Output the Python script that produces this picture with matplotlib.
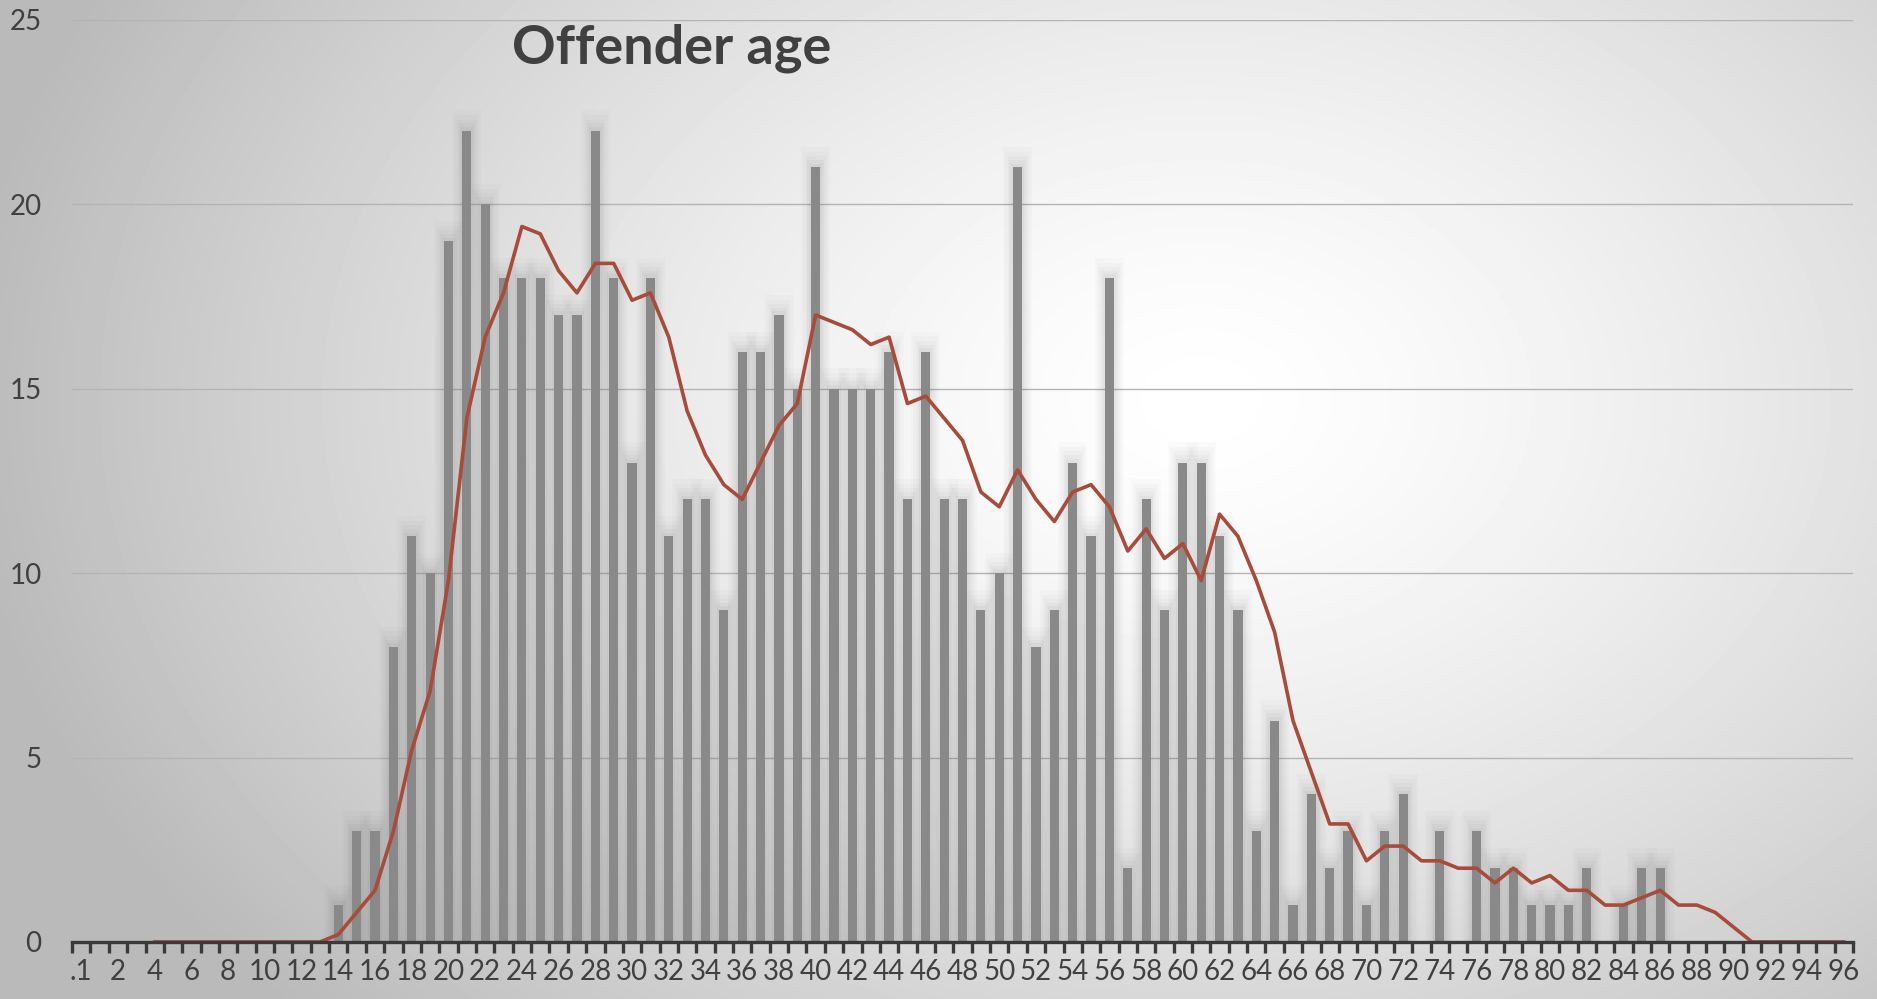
import numpy as np
import matplotlib
matplotlib.use("Agg")
import matplotlib.pyplot as plt

# categories: first one is ".1", then ages 1..96
labels = [".1"] + [str(a) for a in range(1, 97)]

# offender counts per age category
counts = [0] * 14 + [
    1, 3, 3, 8, 11, 10, 19, 22, 20, 18,      # 14-23
    18, 18, 17, 17, 22, 18, 13, 18, 11, 12,  # 24-33
    12, 9, 16, 16, 17, 15, 21, 15, 15, 15,   # 34-43
    16, 12, 16, 12, 12, 9, 10, 21, 8, 9,     # 44-53
    13, 11, 18, 2, 12, 9, 13, 13, 11, 9,     # 54-63
    3, 6, 1, 4, 2, 3, 1, 3, 4, 0,            # 64-73
    3, 0, 3, 2, 2, 1, 1, 1, 2, 0,            # 74-83
    1, 2, 2,                                 # 84-86
] + [0] * 10

# moving average trend line (starts at category 4)
trend = [np.nan] * 4 + [0] * 10 + [
    0.2, 0.8, 1.4, 3.0, 5.2, 6.8, 9.8, 14.2, 16.4, 17.6,     # 14-23
    19.4, 19.2, 18.2, 17.6, 18.4, 18.4, 17.4, 17.6, 16.4, 14.4,  # 24-33
    13.2, 12.4, 12.0, 13.0, 14.0, 14.6, 17.0, 16.8, 16.6, 16.2,  # 34-43
    16.4, 14.6, 14.8, 14.2, 13.6, 12.2, 11.8, 12.8, 12.0, 11.4,  # 44-53
    12.2, 12.4, 11.8, 10.6, 11.2, 10.4, 10.8, 9.8, 11.6, 11.0,   # 54-63
    9.8, 8.4, 6.0, 4.6, 3.2, 3.2, 2.2, 2.6, 2.6, 2.2,            # 64-73
    2.2, 2.0, 2.0, 1.6, 2.0, 1.6, 1.8, 1.4, 1.4, 1.0,            # 74-83
    1.0, 1.2, 1.4, 1.0, 1.0, 0.8, 0.4, 0.0,                      # 84-91
] + [0] * 5

plt.rcParams['font.family'] = ['Lato', 'DejaVu Sans']

fig = plt.figure(figsize=(18.77, 9.99), dpi=100)

# background: radial white highlight on grey
bg = fig.add_axes([0, 0, 1, 1], zorder=0)
gx, gy = np.meshgrid(np.linspace(0, 1, 400), np.linspace(0, 1, 220))
d = np.sqrt(((gx - 0.64) / 0.55) ** 2 + ((gy - 0.6) / 0.75) ** 2)
shade = 1.0 - 0.21 * np.clip(d, 0, 1.2) ** 1.4
bg.imshow(shade, cmap="gray", vmin=0, vmax=1, extent=[0, 1, 0, 1],
          aspect="auto", origin="lower", interpolation="bilinear")
bg.set_axis_off()

ax = fig.add_axes([0.0384, 0.0571, 0.9488, 0.9229], zorder=1)
ax.patch.set_alpha(0)

x = np.arange(len(labels))
c = np.array(counts, dtype=float)

# soft shadow around bars (several faint, widening layers)
for w, ext, a in [(1.6, 0.55, 0.018), (1.35, 0.42, 0.022),
                  (1.1, 0.3, 0.028), (0.9, 0.2, 0.035),
                  (0.72, 0.1, 0.045)]:
    ax.bar(x, np.where(c > 0, c + ext, 0), width=w, color="#4a4a4a",
           alpha=a, linewidth=0, zorder=1)
ax.bar(x, c, width=0.5, color="#898989", linewidth=0, zorder=2)
ax.plot(x, trend, color="#A84B3A", linewidth=2.6, zorder=3)

ax.set_xlim(-0.5, len(labels) - 0.5)
ax.set_ylim(0, 25)
ax.set_yticks([0, 5, 10, 15, 20, 25])
ax.grid(axis="y", color="#b4b4b4", linewidth=1.0, zorder=0)
ax.set_axisbelow(True)

ax.set_xticks(x[::2])
ax.set_xticklabels(labels[::2])
ax.set_xticks(np.arange(len(labels) + 1) - 0.5, minor=True)
ax.tick_params(axis="x", which="major", length=0, pad=12,
               labelsize=20, labelcolor="#404040")
ax.tick_params(axis="x", which="minor", length=8, width=2.4,
               color="#3a3a3a")
ax.tick_params(axis="y", length=0, pad=22, labelsize=20,
               labelcolor="#404040")

for s in ["top", "right", "left"]:
    ax.spines[s].set_visible(False)
ax.spines["bottom"].set_color("#3a3a3a")
ax.spines["bottom"].set_linewidth(2.4)
ax.spines["bottom"].set_zorder(4)

fig.text(0.358, 0.952, "Offender age", ha="center", va="center",
         fontsize=39, fontweight="bold", color="#404040")

fig.savefig("out.png", dpi=100)
